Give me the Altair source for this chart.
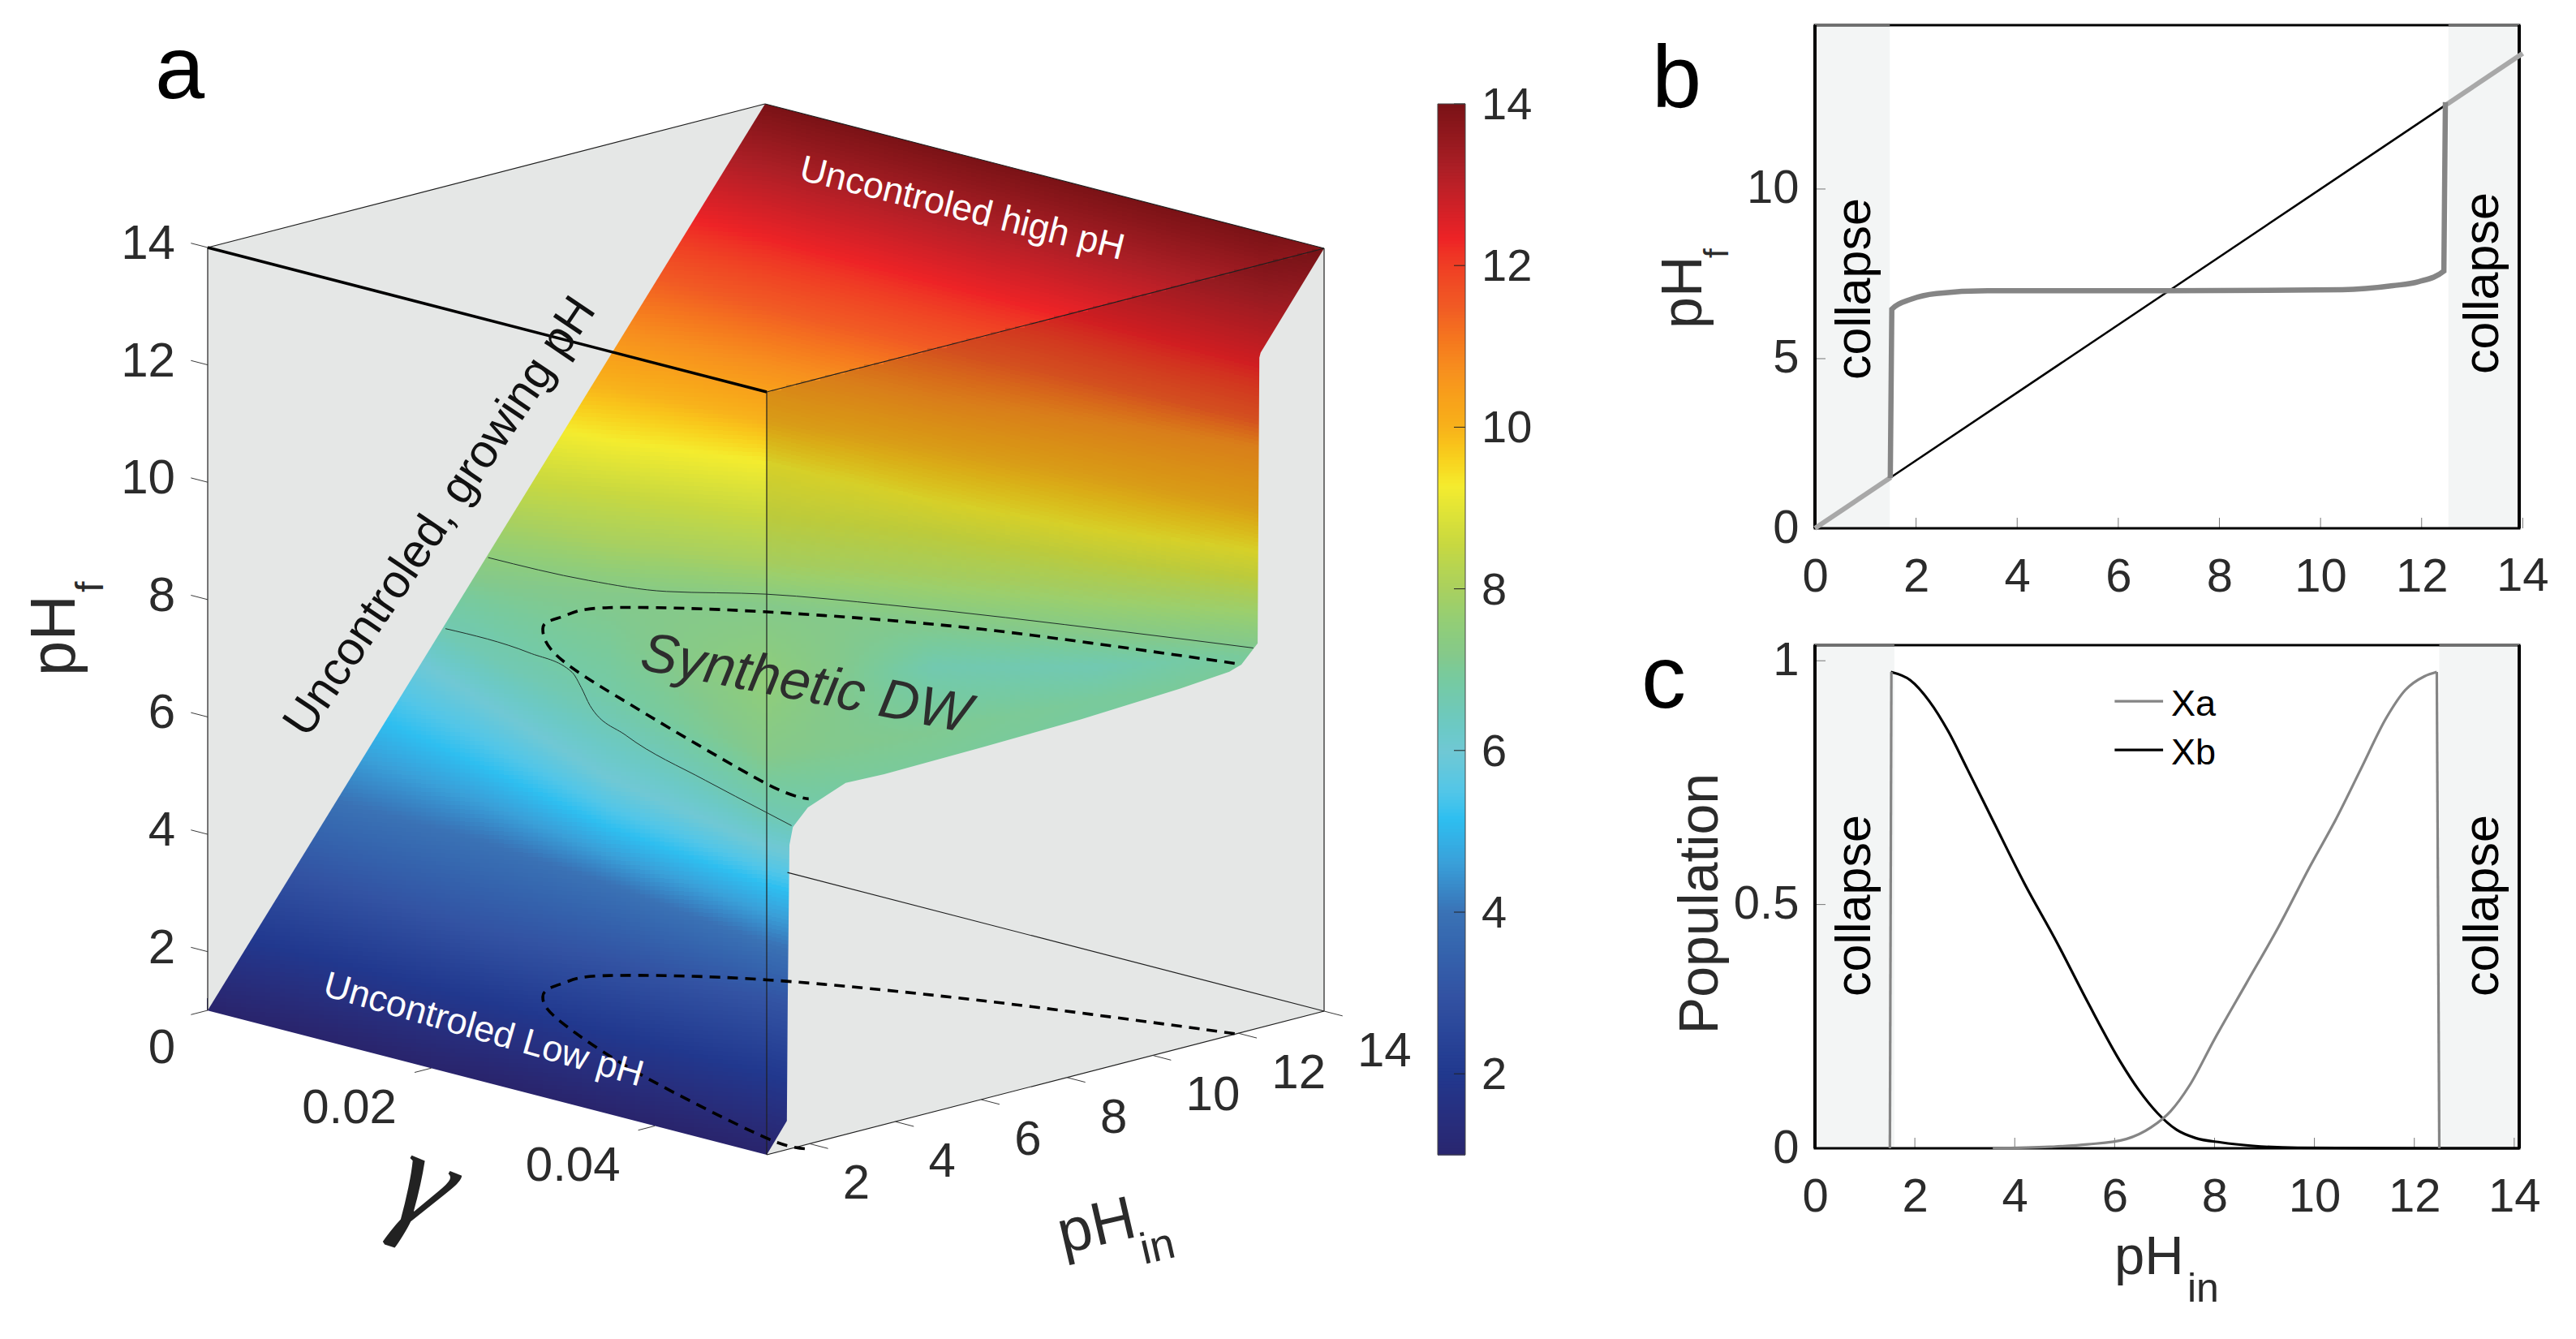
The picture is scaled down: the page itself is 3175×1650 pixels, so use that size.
import numpy as np
import pandas as pd
import altair as alt

alt.data_transformers.disable_max_rows()

FONT = "Liberation Sans"
INK = "#2b2b2b"
WALL = "#e5e7e6"

# ---- colour map (value -> colour)
CMAP_V = [0.9, 2, 3, 4, 4.6, 5.17, 5.5, 6, 6.6, 7.2, 8, 8.56, 9.28, 10, 10.7, 11.5, 12.33, 13.2, 14]
CMAP_C = ["#29246c", "#21388e", "#3353a3", "#3a72b5", "#3a9fd8", "#2ebff0", "#52c6e8", "#70c8d4",
          "#72c9b2", "#85c98a", "#a9d05f", "#c8d840", "#f4ec2e", "#f8b21b", "#f7901e", "#f15a24",
          "#ee2326", "#ad1f26", "#7a1216"]
BAR_TICKS = [2, 4, 6, 8, 10, 12, 14]

# ---- panel a: pH_f surface read along bands of equal colour, sampled at these columns
FIELD_X = [256, 450, 600, 750, 945, 1150, 1350, 1560]
FIELD_Y = [
    [-53, -3, 36, 75, 126, 179, 231, 286],
    [48, 98, 137, 176, 226, 279, 331, 385],
    [115, 165, 204, 243, 293, 346, 397, 452],
    [198, 248, 287, 325, 376, 425, 470, 518],
    [290, 340, 375, 405, 449, 490, 517, 550],
    [370, 420, 455, 474, 517, 550, 585, 627],
    [445, 490, 510, 540, 568, 615, 650, 678],
    [520, 560, 585, 605, 635, 657, 687, 712],
    [560, 600, 635, 665, 690, 705, 722, 738],
    [600, 675, 712, 730, 745, 765, 780, 791],
    [610, 690, 740, 790, 840, 820, 820, 805],
    [620, 700, 775, 850, 930, 900, 860, 830],
    [640, 725, 805, 880, 1000, 1060, 1115, 1170],
    [680, 770, 865, 957, 1040, 1090, 1145, 1200],
    [790, 875, 945, 1017, 1088, 1145, 1200, 1255],
    [935, 995, 1036, 1087, 1160, 1215, 1270, 1325],
    [1040, 1100, 1145, 1180, 1230, 1285, 1340, 1395],
    [1143, 1193, 1232, 1271, 1321, 1373, 1425, 1480],
    [1243, 1293, 1332, 1371, 1421, 1474, 1526, 1580],
]
FIELD_F = [
    [14] * 8, [13] * 8, [12.33] * 8, [11.5] * 8, [10.7] * 8, [10] * 8, [9.28] * 8, [8.56] * 8,
    [8] * 8, [7.2] * 8,
    [6.95, 6.95, 6.95, 7.0, 7.55, 6.65, 6.6, 7.0],
    [6.75, 6.75, 6.75, 6.8, 7.2, 7.1, 6.95, 7.0],
    [6.6] * 8, [6] * 8, [5.17] * 8, [4] * 8, [3] * 8, [2] * 8, [0.9] * 8,
]

# surface rim at the largest gamma
EDGE_PHIN = [1, 1.47, 1.49, 1.53, 1.61, 1.96, 2.84, 3.74, 6.05, 8.34, 10.63, 11.79, 12.07, 12.45, 12.49, 12.52, 14]
EDGE_PHF = [1, 1.49, 3.51, 6.18, 6.47, 6.74, 6.99, 6.97, 7.0, 7.04, 7.13, 7.2, 7.27, 7.56, 12.42, 12.5, 14]

# fold curve (dashed), on the floor and on the surface
FOLD_GAMMA = [.0499, .033, .0197, .0119, .0112, .0126, .0178, .0303, .0471, .0508]
FOLD_PHIN = [11.94, 10.49, 8.91, 7.26, 6.33, 5.53, 4.60, 3.17, 1.75, 1.77]
FOLD_PHF = [7.31, 7.33, 7.27, 7.27, 7.25, 7.27, 7.18, 7.2, 7.04, 6.96]

# thin contours on the surface
C1_GAMMA = [.00015, .0086, .014, .0189, .0262, .0414, .05]
C1_PHIN = [7.5, 7.64, 8.05, 9.09, 10.03, 11.57, 12.35]
C2_GAMMA = [.0004, .0083, .0136, .0167, .0202, .027, .0383, .0465, .05]
C2_PHIN = [6.44, 6.33, 5.95, 5.36, 4.65, 3.72, 2.62, 1.89, 1.58]

PHF_TICKS = [2, 4, 6, 8, 10, 12, 14]
PHIN_TICKS = [2, 4, 6, 8, 10, 12, 14]
GAMMA_TICKS = [0, 0.02, 0.04]

# ---- panel b
B_X = [1.49, 1.52, 1.9, 2.4, 3.41, 7, 10.43, 11.43, 11.94, 12.44, 12.47]
B_Y = [1.48, 6.46, 6.75, 6.92, 7.0, 7.0, 7.03, 7.15, 7.27, 7.58, 12.56]
B_LOW_X = [0, 1.5]
B_LOW_Y = [0, 1.5]
B_HIGH_X = [12.5, 14]
B_HIGH_Y = [12.5, 14]
B_DIAG_X = [1.5, 12.5]
B_DIAG_Y = [1.5, 12.5]
B_BANDS = [(0, 1.48), (12.53, 13.93)]

# ---- panel c
XB_X = [1.52, 1.91, 2.29, 2.67, 3.05, 3.56, 4.19, 4.83, 5.46, 6.1, 6.48, 6.86, 7.24, 7.62, 8.13, 8.77, 9.66, 12.5, 14.1]
XB_Y = [.977, .96, .917, .855, .778, .673, .544, .425, .30, .18, .12, .072, .038, .021, .012, .005, .001, 0, 0]
XA_X = [3.56, 4.7, 5.46, 6.23, 6.73, 7.12, 7.5, 8.0, 8.64, 9.28, 9.91, 10.42, 10.93, 11.44, 11.82, 12.2, 12.45]
XA_Y = [0, .003, .008, .019, .043, .076, .129, .224, .339, .454, .578, .673, .778, .883, .94, .968, .977]
C_EDGE_L_X = [1.5, 1.53]
C_EDGE_L_Y = [0, .977]
C_EDGE_R_X = [12.45, 12.5]
C_EDGE_R_Y = [.977, 0]
C_BANDS = [(0, 1.59), (12.5, 14.1)]
TICKS_X = [0, 2, 4, 6, 8, 10, 12, 14]

# ---- projection of panel a
GMAX, ZMIN, PMIN, ZSPAN = 0.05, 1, 1, 13


def project(gamma, ph_in, ph_f):
    g = np.asarray(gamma, float) / GMAX
    p = (np.asarray(ph_in, float) - PMIN) / ZSPAN
    f = (np.asarray(ph_f, float) - ZMIN) / ZSPAN
    return 256 + 689 * g + 687 * p, 1243 + 178 * g - 177 * p - 940 * f


AX0, AY0, AW, AH = 8, 29, 2200, 1590
XS = alt.Scale(domain=[AX0, AX0 + AW], nice=False, zero=False)
YS = alt.Scale(domain=[AY0 + AH, AY0], nice=False, zero=False)
X_ = alt.X("x:Q", scale=XS, axis=None)
Y_ = alt.Y("y:Q", scale=YS, axis=None)
COLOR = alt.Color("f:Q", scale=alt.Scale(domain=CMAP_V, range=CMAP_C), legend=None)

# outlines
lx0, ly0 = project(0, 1, 1)          # left floor corner
fx0, fy0 = project(GMAX, 1, 1)       # front floor corner
rx0, ry0 = project(GMAX, 14, 1)      # right floor corner
lx1, ly1 = project(0, 1, 14)         # left top
bx1, by1 = project(0, 14, 14)        # back top
fx1, fy1 = project(GMAX, 1, 14)      # front top
rx1, ry1 = project(GMAX, 14, 14)     # right top
ex, ey = project(GMAX, EDGE_PHIN, EDGE_PHF)

top_x = [float(lx0), float(bx1), float(rx1)]
top_y = [float(ly0), float(by1), float(ry1)]
bot_x = [float(lx0)] + list(map(float, ex))
bot_y = [float(ly0)] + list(map(float, ey))

# raster of surface cells
CW, CH = 6, 5
XEND = int(rx1)
cells, dull = [], []
FY = np.array(FIELD_Y, float)
FF = np.array(FIELD_F, float)
for X in range(255, 1635, CW):
    xc = X + CW / 2
    span = [X, xc, X + CW + 1]
    t = float(np.min(np.interp(span, top_x, top_y)))
    b = float(np.max(np.interp(span, bot_x, bot_y)))
    ys = np.array([np.interp(xc, FIELD_X, r) for r in FY])
    fs = np.array([np.interp(xc, FIELD_X, r) for r in FF])
    for Y in np.arange(int(t) - CH, b + CH, CH):
        yc = Y + CH / 2
        f = float(np.interp(yc, ys, fs))
        cells.append(dict(x=X, x2=min(X + CW + 1, XEND), y=int(Y), y2=int(Y) + CH + 1, f=round(f, 2)))
        if X >= 945 and yc > np.interp(xc, [float(fx1), float(rx1)], [float(fy1), float(ry1)]):
            o = float(np.clip((f - 7.8) / 1.5, 0, 1)) * 0.12
            if o > 0:
                dull.append(dict(x=X, x2=min(X + CW, XEND), y=int(Y), y2=int(Y) + CH, o=round(o, 3)))

# layers of panel a
hex_df = pd.DataFrame(dict(x=[float(lx1), float(bx1), float(rx1)],
                           y=[float(ly1), float(by1), float(ry1)],
                           y2=[float(ly0), float(fy0), float(ry0)]))
hex_layer = alt.Chart(hex_df).mark_area(color=WALL).encode(x=X_, y=Y_, y2="y2:Q")
cell_layer = alt.Chart(pd.DataFrame(cells)).mark_rect(strokeWidth=0).encode(x=X_, x2="x2:Q", y=Y_, y2="y2:Q", color=COLOR)
dull_layer = alt.Chart(pd.DataFrame(dull)).mark_rect(strokeWidth=0, color="black").encode(
    x=X_, x2="x2:Q", y=Y_, y2="y2:Q", opacity=alt.Opacity("o:Q", scale=None))

# masks that give the surface its clean rim
left_mask = alt.Chart(pd.DataFrame(dict(
    x=[float(lx0), float(bx1)], y=[float(ly1), float(by1)], y2=[float(ly0), float(by1)]
))).mark_area(color=WALL).encode(x=X_, y=Y_, y2="y2:Q")
rim_x = list(map(float, ex))
rim_y = list(map(float, ey))
right_mask = alt.Chart(pd.DataFrame(dict(
    x=rim_x, y=rim_y,
    y2=list(np.interp(rim_x, [float(fx0), float(rx0)], [float(fy0), float(ry0)]))
))).mark_area(color=WALL).encode(x=X_, y=Y_, y2="y2:Q")
hex_top_at_900 = float(np.interp(900, [float(lx1), float(bx1)], [float(ly1), float(by1)]))
top_mask = alt.Chart(pd.DataFrame(dict(
    x=[900, float(bx1), float(rx1)], y=[100, 100, 100], y2=[hex_top_at_900, float(by1), float(ry1)]
))).mark_area(color="white").encode(x=X_, y=Y_, y2="y2:Q")
floor_at_960 = float(np.interp(960, [float(fx0), float(rx0)], [float(fy0), float(ry0)]))
low_mask = alt.Chart(pd.DataFrame(dict(
    x=[float(lx0) - 1, float(fx0), 960],
    y=[float(ly0), float(fy0), floor_at_960],
    y2=[float(ly0) + 25, float(fy0) + 25, floor_at_960 + 25]
))).mark_area(color="white").encode(x=X_, y=Y_, y2="y2:Q")


def path_df(segments):
    rows = []
    for s, (gs, ps, fs) in enumerate(segments):
        n = max(np.size(gs), np.size(ps), np.size(fs))
        xs, ys = project(np.broadcast_to(gs, n), np.broadcast_to(ps, n), np.broadcast_to(fs, n))
        for i, (a, b) in enumerate(zip(xs, ys)):
            rows.append(dict(seg=s, i=i, x=float(a), y=float(b)))
    return pd.DataFrame(rows)


def lines(segments, **kw):
    return alt.Chart(path_df(segments)).mark_line(**kw).encode(x=X_, y=Y_, detail="seg:N", order="i:Q")


thin_frame = lines([
    ([0, 0], [1, 14], [14, 14]),
    ([0, GMAX], [14, 14], [14, 14]),
    ([GMAX, GMAX], [1, 14], [14, 14]),
    ([GMAX, GMAX], [1, 1], [1, 14]),
    ([0, 0], [1, 1], [1, 14]),
    ([GMAX, GMAX], [14, 14], [1, 14]),
    ([GMAX, GMAX], [1, 14], [1, 1]),
    ([0.04 * GMAX, GMAX], [14, 14], [1, 1]),
], color="#1f1f1f", strokeWidth=1.2)
thick_edge = lines([([0, GMAX], [1, 1], [14, 14])], color="black", strokeWidth=3.5)

ticks = []
for v in PHF_TICKS:
    ticks.append(([-0.03 * GMAX, 0], [1, 1], [v, v]))
for v in GAMMA_TICKS:
    ticks.append(([v, v], [1 - 0.03 * ZSPAN, 1], [1, 1]))
for v in PHIN_TICKS:
    ticks.append(([GMAX, GMAX * 1.033], [v, v], [1, 1]))
tick_layer = lines(ticks, color="#3a3a3a", strokeWidth=1)

contours = lines([(C1_GAMMA, C1_PHIN, 7.5), (C2_GAMMA, C2_PHIN, 6.5)],
                 color="#1f2f2a", strokeWidth=1, interpolate="monotone")
fold = lines([(FOLD_GAMMA, FOLD_PHIN, 1), (FOLD_GAMMA, FOLD_PHIN, FOLD_PHF)],
             color="black", strokeWidth=3.6, strokeDash=[13, 9], interpolate="cardinal")


def tx(text, x, y, size, ox, oy, angle=0, color="black", align="center", baseline="middle", style="normal", font=FONT):
    kw = dict(fontSize=size, color=color, align=align, baseline=baseline, font=font, fontStyle=style)
    if angle:
        kw["angle"] = angle
    return alt.Chart(alt.Data(values=[{"t": text}])).mark_text(**kw).encode(
        text="t:N", x=alt.value(x - ox), y=alt.value(y - oy))


def ta(*args, **kw):
    return tx(args[0], args[1], args[2], args[3], AX0, AY0, **kw)


# tick labels of panel a
ztx, zty = project(0, 1, [0.29] + PHF_TICKS)
zlabels = alt.Chart(pd.DataFrame(dict(x=ztx - 40, y=zty - 4, t=["0"] + [str(v) for v in PHF_TICKS]))).mark_text(
    fontSize=60, font=FONT, color=INK, align="right", baseline="middle").encode(x=X_, y=Y_, text="t:N")
gtx, gty = project(GAMMA_TICKS[1:], 1, 1)
glabels = alt.Chart(pd.DataFrame(dict(x=gtx - 101, y=gty + 50, t=["0.02", "0.04"]))).mark_text(
    fontSize=60, font=FONT, color=INK, align="center", baseline="middle").encode(x=X_, y=Y_, text="t:N")
ptx, pty = project(GMAX, PHIN_TICKS, 1)
plabels = alt.Chart(pd.DataFrame(dict(x=ptx + 41, y=pty + 50, t=[str(v) for v in PHIN_TICKS]))).mark_text(
    fontSize=60, font=FONT, color=INK, align="left", baseline="middle").encode(x=X_, y=Y_, text="t:N")

# colour bar
BAR_V = np.arange(1.0, 14.0, 0.04)
BAR_TOP, BAR_PER = 126, 99.6
bar_df = pd.DataFrame(dict(x=1772, x2=1806, y=BAR_TOP + (14 - BAR_V - 0.04) * BAR_PER,
                           y2=BAR_TOP + (14 - BAR_V) * BAR_PER + 1, f=BAR_V + 0.02))
bar = alt.Chart(bar_df).mark_rect(strokeWidth=0).encode(x=X_, x2="x2:Q", y=Y_, y2="y2:Q", color=COLOR)
by_ticks = BAR_TOP + (14 - np.array(BAR_TICKS)) * BAR_PER
bar_ticks = alt.Chart(pd.DataFrame(dict(x=1792, x2=1806, y=by_ticks))).mark_rule(color="#222", strokeWidth=1).encode(
    x=X_, x2="x2:Q", y=Y_)
bar_box = alt.Chart(pd.DataFrame(dict(i=range(5), x=[1772, 1806, 1806, 1772, 1772],
                                      y=[126, 126, 1421, 1421, 126]))).mark_line(color="#444", strokeWidth=1).encode(
    x=X_, y=Y_, order="i:Q")
bar_labels = alt.Chart(pd.DataFrame(dict(x=1826, y=by_ticks + 2, t=[str(v) for v in BAR_TICKS]))).mark_text(
    fontSize=56, font=FONT, color=INK, align="left", baseline="middle").encode(x=X_, y=Y_, text="t:N")

panel_a = alt.layer(
    hex_layer, cell_layer, dull_layer, left_mask, right_mask, top_mask, low_mask,
    thin_frame, thick_edge, tick_layer, contours, fold,
    zlabels, glabels, plabels, bar, bar_ticks, bar_box, bar_labels,
    ta("a", 191, 119, 110, align="left", baseline="alphabetic"),
    ta("Uncontroled, growing pH", 543, 635, 58, angle=304, color="#111"),
    ta("Uncontroled high pH", 1186, 255, 45, angle=14, color="white"),
    ta("Uncontroled Low pH", 596, 1267, 45, angle=16, color="white"),
    ta("Synthetic DW", 993, 842, 68, angle=11, color="#2d2d2d", style="italic"),
    ta("pH", 92, 831, 78, angle=270, color=INK, align="left", baseline="alphabetic"),
    ta("f", 127, 728, 48, angle=270, color=INK, align="left", baseline="alphabetic"),
    ta("\u03b3", 525, 1458, 170, angle=22, color="#222", style="italic", font="Liberation Serif"),
    ta("pH", 1310, 1543, 75, angle=347, color=INK, align="left", baseline="alphabetic"),
    ta("in", 1410, 1556, 54, angle=347, color=INK, align="left", baseline="alphabetic"),
).properties(width=AW, height=AH)

# ---- panels b and c
PW, BH, CH_ = 868, 620, 620
BX0, BY0, CY0 = 2237, 29, 793
BAND_FILL = "#eff2f1"


def axis_x():
    return alt.Axis(values=TICKS_X, title=None, labelFontSize=58, labelFont=FONT, labelColor=INK, labelPadding=31,
                    domain=False, ticks=False, grid=False, labelOverlap=False, labelFlush=False, labelBaseline="top")


def axis_y(values, **kw):
    return alt.Axis(values=values, labelFontSize=58, labelFont=FONT, labelColor=INK, labelPadding=20,
                    labelExpr="datum.value + ''",
                    domain=False, ticks=False, grid=False, labelOverlap=False, labelFlush=False, **kw)


def panel(bands, xmax, ymax, yvals, h, ytick, ytitle=None, ykw=None):
    xs = alt.Scale(domain=[0, xmax], nice=False, zero=False)
    ys = alt.Scale(domain=[0, ymax], nice=False, zero=False)
    ex_ = alt.X("x:Q", scale=xs, axis=axis_x())
    ey_ = alt.Y("y:Q", scale=ys, axis=axis_y(yvals, title=ytitle, **(ykw or {})))
    bd = pd.DataFrame(dict(x=[b[0] for b in bands], x2=[b[1] for b in bands]))
    band = alt.Chart(bd).mark_rect(fill=BAND_FILL, opacity=0.75, strokeWidth=0).encode(
        x=ex_, x2="x2:Q", y=alt.value(0), y2=alt.value(h))
    xt = alt.Chart(pd.DataFrame(dict(x=TICKS_X[1:]))).mark_rule(color="#777", strokeWidth=1).encode(
        x=ex_, y=alt.value(h - 13), y2=alt.value(h))
    yt = alt.Chart(pd.DataFrame(dict(y=ytick))).mark_rule(color="#777", strokeWidth=1).encode(
        y=ey_, x=alt.value(0), x2=alt.value(13))
    frame = alt.Chart(alt.Data(values=[{"k": 1}])).mark_rect(
        fillOpacity=0, stroke="black", strokeWidth=3).encode(
        x=alt.value(0), x2=alt.value(PW), y=alt.value(0), y2=alt.value(h))
    top = alt.Chart(bd).mark_rule(color="#6e6e6e", strokeWidth=3).encode(x=ex_, x2="x2:Q", y=alt.value(0))
    side_l = alt.Chart(alt.Data(values=[{"k": 1}])).mark_rule(color="black", strokeWidth=4).encode(
        x=alt.value(0), y=alt.value(0), y2=alt.value(h))
    side_r = alt.Chart(alt.Data(values=[{"k": 1}])).mark_rule(color="black", strokeWidth=4).encode(
        x=alt.value(PW), y=alt.value(0), y2=alt.value(h))
    return ex_, ey_, [band, xt, yt], [frame, top, side_l, side_r]


def seg(xv, yv, xe, ye, **kw):
    d = pd.DataFrame(dict(x=xv, y=yv, i=range(len(xv))))
    return alt.Chart(d).mark_line(**kw).encode(x=xe, y=ye, order="i:Q")


# panel b
bx, by, bbase, bfront = panel(B_BANDS, 13.93, 14.83, [0, 5, 10], BH, [5, 10])
b_14 = alt.Chart(alt.Data(values=[{"x": 14, "t": "14"}])).mark_text(
    fontSize=58, font=FONT, color=INK, align="center", baseline="top").encode(
    x=bx, y=alt.value(BH + 31), text="t:N")

panel_b = alt.layer(
    *bbase,
    seg(B_DIAG_X, B_DIAG_Y, bx, by, color="black", strokeWidth=2.6),
    *bfront,
    seg(B_LOW_X, B_LOW_Y, bx, by, color="#a8a8a8", strokeWidth=6),
    seg(B_HIGH_X, B_HIGH_Y, bx, by, color="#a8a8a8", strokeWidth=6),
    seg(B_X, B_Y, bx, by, color="#858585", strokeWidth=6.5, interpolate="monotone"),
    b_14,
    tx("b", 2036, 130, 110, BX0, BY0, align="left", baseline="alphabetic"),
    tx("collapse", 2287, 354, 61, BX0, BY0, angle=270, color="black"),
    tx("collapse", 3061, 347, 61, BX0, BY0, angle=270, color="black"),
    tx("pH", 2097, 403, 70, BX0, BY0, angle=270, color=INK, align="left", baseline="alphabetic"),
    tx("f", 2130, 316, 42, BX0, BY0, angle=270, color=INK, align="left", baseline="alphabetic"),
).properties(width=PW, height=BH)

# panel c
cx, cy, cbase, cfront = panel(C_BANDS, 14.1, 1.032, [0, 0.5, 1], CH_, [0.5, 1],
                              ytitle="Population",
                              ykw=dict(titleFontSize=68, titleFont=FONT, titleFontWeight="normal", titleColor=INK,
                                       titleX=-121, titleY=318, titleAngle=270, titleBaseline="alphabetic",
                                       titleAlign="center"))
GRAY_C = "#858585"
panel_c = alt.layer(
    *cbase,
    *cfront,
    seg(XB_X, XB_Y, cx, cy, color="black", strokeWidth=3.2, interpolate="monotone"),
    seg(XA_X, XA_Y, cx, cy, color=GRAY_C, strokeWidth=3.2, interpolate="monotone"),
    seg(C_EDGE_L_X, C_EDGE_L_Y, cx, cy, color=GRAY_C, strokeWidth=3.2),
    seg(C_EDGE_R_X, C_EDGE_R_Y, cx, cy, color=GRAY_C, strokeWidth=3.2),
    seg([6.0, 6.97], [.917, .917], cx, cy, color=GRAY_C, strokeWidth=3.2),
    seg([6.0, 6.97], [.817, .817], cx, cy, color="black", strokeWidth=3.2),
    tx("Xa", 2676, 866, 45, BX0, CY0, align="left"),
    tx("Xb", 2676, 926, 45, BX0, CY0, align="left"),
    tx("c", 2023, 870, 110, BX0, CY0, align="left", baseline="alphabetic"),
    tx("collapse", 2287, 1114, 61, BX0, CY0, angle=270, color="black"),
    tx("collapse", 3061, 1114, 61, BX0, CY0, angle=270, color="black"),
    tx("pH", 2606, 1568, 67, BX0, CY0, color=INK, align="left", baseline="alphabetic"),
    tx("in", 2696, 1602, 50, BX0, CY0, color=INK, align="left", baseline="alphabetic"),
).properties(width=PW, height=CH_)

right = alt.vconcat(panel_b, panel_c, spacing=CY0 - BY0 - BH, bounds="flush")
chart = alt.hconcat(panel_a, right, spacing=BX0 - AX0 - AW, bounds="flush").properties(
    padding={"left": 0, "top": 21, "right": 0, "bottom": 0}
).configure_view(stroke=None).resolve_scale(color="independent")

chart.save("out.html", embed_options={"renderer": "svg", "actions": False})
